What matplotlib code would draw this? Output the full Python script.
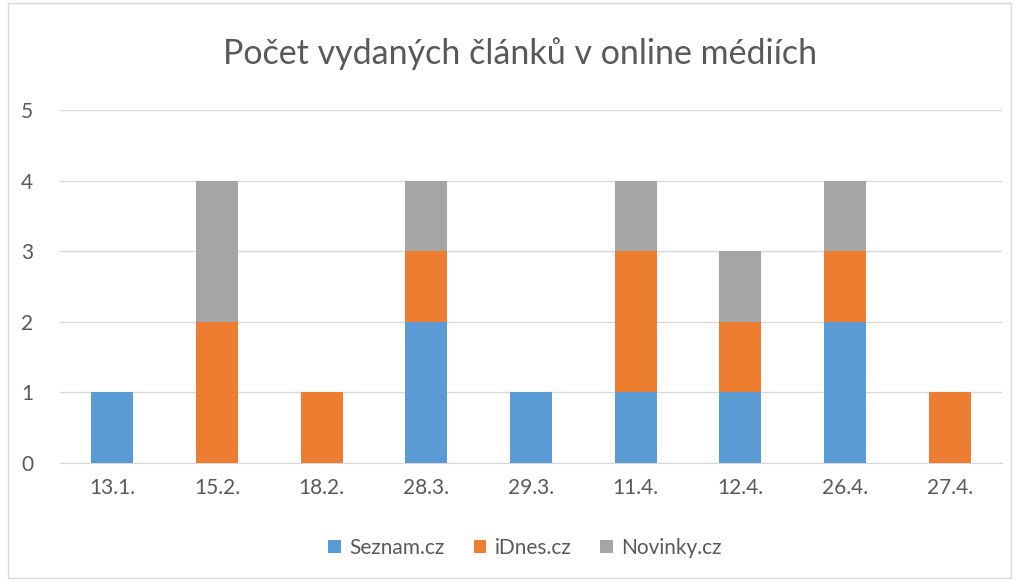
import matplotlib
matplotlib.use("Agg")
import matplotlib.pyplot as plt
from matplotlib.patches import Rectangle
import numpy as np

categories = ["13.1.", "15.2.", "18.2.", "28.3.", "29.3.", "11.4.", "12.4.", "26.4.", "27.4."]
seznam = [1, 0, 0, 2, 1, 1, 1, 2, 0]
idnes = [0, 2, 1, 1, 0, 2, 1, 1, 1]
novinky = [0, 2, 0, 1, 0, 1, 1, 1, 0]
series_names = ["Seznam.cz", "iDnes.cz", "Novinky.cz"]
colors = ["#5B9BD5", "#ED7D31", "#A5A5A5"]
yticks = [0, 1, 2, 3, 4, 5]

plt.rcParams['font.family'] = ['Lato', 'DejaVu Sans']

fig = plt.figure(figsize=(10.16, 5.8), dpi=100)
fig.patches.append(Rectangle((8/1016, 2/580), 1003/1016, 575/580, transform=fig.transFigure,
                             fill=False, edgecolor="#D9D9D9", linewidth=1))
ax = fig.add_axes([60/1016, 1-463/580, 942/1016, 353/580])

x = np.arange(len(categories))
bottom = np.zeros(len(categories))
for vals, name, c in zip([seznam, idnes, novinky], series_names, colors):
    ax.bar(x, vals, width=0.4, bottom=bottom, color=c, label=name, zorder=3)
    bottom += np.array(vals)

ax.set_xlim(-0.5, len(categories) - 0.5)
ax.set_ylim(0, 5)
ax.set_yticks(yticks)
ax.set_xticks(x)
ax.set_xticklabels(categories)
ax.yaxis.grid(True, color="#D9D9D9", linewidth=1, zorder=0)
for s in ["top", "right", "left"]:
    ax.spines[s].set_visible(False)
ax.spines["bottom"].set_color("#D9D9D9")
ax.tick_params(axis="both", length=0, colors="#595959", labelsize=15)
ax.tick_params(axis="x", pad=11)
ax.tick_params(axis="y", pad=28)
for lab in ax.get_yticklabels():
    lab.set_horizontalalignment("left")

fig.text(520/1016, 1-54/580, "Počet vydaných článků v online médiích", ha="center", va="center",
         fontsize=24.5, color="#595959")
fig.legend(loc="center", bbox_to_anchor=(525/1016, 1-548/580), ncol=3, frameon=False,
           fontsize=15, handlelength=0.6, handleheight=0.6, handletextpad=0.4, columnspacing=1.4,
           labelcolor="#595959")
fig.savefig("out.png", dpi=100)
